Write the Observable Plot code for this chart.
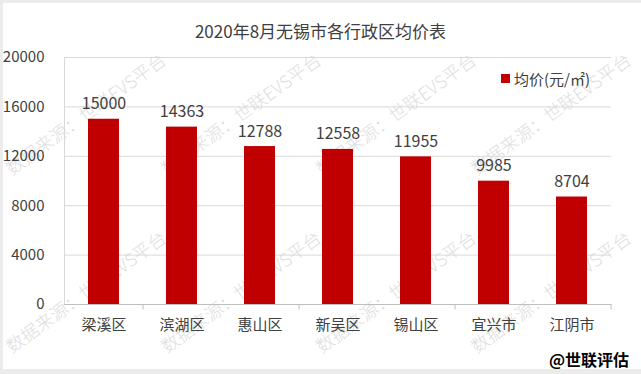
<!DOCTYPE html>
<html><head><meta charset="utf-8">
<script src="https://cdn.jsdelivr.net/npm/d3@7"></script>
<script src="https://cdn.jsdelivr.net/npm/@observablehq/plot@0.6"></script>
<style>
body{margin:0;background:#ececec;}
#wrap{position:relative;width:641px;height:374px;overflow:hidden;background:#ececec;font-family:"Noto Sans CJK SC","Noto Sans",sans-serif;}
#panel{position:absolute;left:3px;top:3px;width:638px;height:366px;background:#fff;}
#wm{position:absolute;left:0;top:0;}
#chart{position:absolute;left:0;top:0;}
#title{position:absolute;left:0;width:641px;top:19px;text-align:center;font-size:17px;line-height:24px;color:#404040;}
#legend{position:absolute;left:501px;top:68px;height:20px;display:flex;align-items:center;font-size:15px;color:#404040;}
#legend .sw{width:9px;height:9px;background:#c00000;margin-right:4px;}
#footer{position:absolute;right:12px;top:347px;font-size:16px;line-height:24px;font-weight:bold;color:#000;}
</style>
</head><body>
<div id="wrap">
  <div id="panel"></div>
  <div id="wm"></div>
  <div id="chart"></div>
  <div id="title">2020年8月无锡市各行政区均价表</div>
  <div id="legend"><span class="sw"></span><span id="legendText"></span></div>
  <div id="footer">@世联评估</div>
</div>
<script>
const districts = ["梁溪区","滨湖区","惠山区","新吴区","锡山区","宜兴市","江阴市"];
const prices = [15000,14363,12788,12558,11955,9985,8704];
const yTicks = [0,4000,8000,12000,16000,20000];
const seriesName = "均价(元/㎡)";
const tickCats = ["梁溪区","惠山区","锡山区","江阴市"];
const watermark = "数据来源：世联EVS平台";

document.getElementById("legendText").textContent = seriesName;

const data = districts.map((d,i)=>({district:d, price:prices[i]}));

const W=641,H=374,mL=64,mR=30,mT=57,mB=70;
const step=(W-mL-mR)/districts.length;

// watermark layer (behind the chart)
const wmSvg = d3.select("#wm").append("svg").attr("width",W).attr("height",H);
for (const j of [0,1]) for (const i of [0,1,2,3]) {
  wmSvg.append("text")
    .attr("transform",`translate(${12+155*i},${176+178*j}) rotate(-36)`)
    .attr("font-size",18).attr("font-weight",300).attr("fill","#dedede")
    .attr("font-family","Noto Sans CJK SC")
    .text(watermark);
}

const chart = Plot.plot({
  width:W,height:H,marginLeft:mL,marginRight:mR,marginTop:mT,marginBottom:mB,
  style:{background:"transparent",fontFamily:"Noto Sans CJK SC",fontSize:"15px",color:"#404040"},
  x:{domain:districts,paddingInner:0.6,paddingOuter:0.3,label:null},
  y:{domain:[0,20000],label:null},
  marks:[
    Plot.gridY(yTicks,{stroke:"#d9d9d9",strokeOpacity:1}),
    Plot.frame({anchor:"left",stroke:"#d9d9d9"}),
    Plot.axisY(yTicks,{tickSize:0,tickPadding:20,fontSize:15,label:null,tickFormat:d=>String(d)}),
    Plot.barY(data,{x:"district",y:"price",fill:"#c00000"}),
    Plot.ruleY([0],{stroke:"#bfbfbf"}),
    Plot.ruleX(tickCats,{x:d=>d,dx:step/2,y1:0,y2:-450,stroke:"#bfbfbf"}),
    Plot.axisX({tickSize:0,tickPadding:15,fontSize:15,label:null}),
    Plot.text(data,{x:"district",y:"price",text:d=>String(d.price),dy:-10,lineAnchor:"bottom",fontSize:16,fill:"#404040"})
  ]
});
document.getElementById("chart").appendChild(chart);
</script>
</body></html>
